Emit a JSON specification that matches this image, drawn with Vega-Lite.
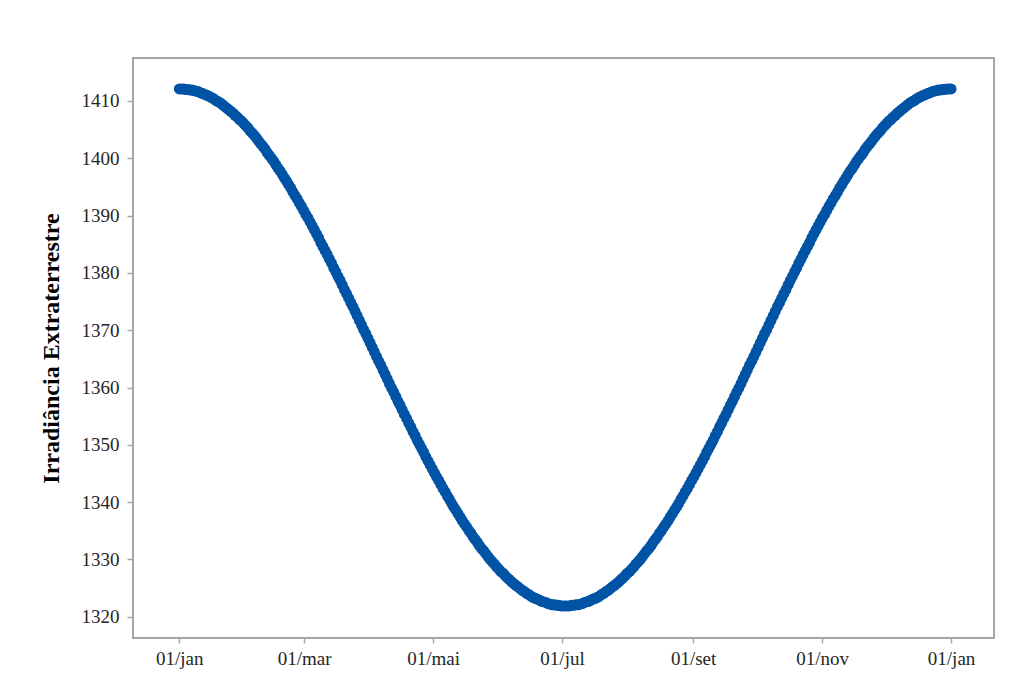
{
  "$schema": "https://vega.github.io/schema/vega-lite/v6.json",
  "autosize": "none",
  "width": 861,
  "height": 580,
  "padding": {"left": 133, "top": 58, "right": 42, "bottom": 55},
  "background": "white",
  "config": {
    "view": {"stroke": "#a6a6a6", "strokeWidth": 2},
    "axis": {
      "grid": false,
      "domain": false,
      "tickColor": "#a6a6a6",
      "tickWidth": 1.5,
      "tickSize": 6,
      "labelFont": "Liberation Serif",
      "labelFontSize": 19,
      "labelColor": "#262626",
      "titleFont": "Liberation Serif",
      "titleColor": "#000000"
    }
  },
  "data": {
    "values": [
      {"dia": 0, "irradiancia": 1412.1}, {"dia": 2.03, "irradiancia": 1412.1}, {"dia": 4.06, "irradiancia": 1412.0},
      {"dia": 6.08, "irradiancia": 1411.9}, {"dia": 8.11, "irradiancia": 1411.7}, {"dia": 10.14, "irradiancia": 1411.4},
      {"dia": 12.17, "irradiancia": 1411.1}, {"dia": 14.19, "irradiancia": 1410.8}, {"dia": 16.22, "irradiancia": 1410.4},
      {"dia": 18.25, "irradiancia": 1409.9}, {"dia": 20.28, "irradiancia": 1409.4}, {"dia": 22.31, "irradiancia": 1408.8},
      {"dia": 24.33, "irradiancia": 1408.2}, {"dia": 26.36, "irradiancia": 1407.5}, {"dia": 28.39, "irradiancia": 1406.8},
      {"dia": 30.42, "irradiancia": 1406.1}, {"dia": 32.44, "irradiancia": 1405.3}, {"dia": 34.47, "irradiancia": 1404.4},
      {"dia": 36.5, "irradiancia": 1403.5}, {"dia": 38.53, "irradiancia": 1402.5}, {"dia": 40.56, "irradiancia": 1401.6},
      {"dia": 42.58, "irradiancia": 1400.5}, {"dia": 44.61, "irradiancia": 1399.5}, {"dia": 46.64, "irradiancia": 1398.3},
      {"dia": 48.67, "irradiancia": 1397.2}, {"dia": 50.69, "irradiancia": 1396.0}, {"dia": 52.72, "irradiancia": 1394.8},
      {"dia": 54.75, "irradiancia": 1393.5}, {"dia": 56.78, "irradiancia": 1392.2}, {"dia": 58.81, "irradiancia": 1390.9},
      {"dia": 60.83, "irradiancia": 1389.6}, {"dia": 62.86, "irradiancia": 1388.2}, {"dia": 64.89, "irradiancia": 1386.8},
      {"dia": 66.92, "irradiancia": 1385.3}, {"dia": 68.94, "irradiancia": 1383.9}, {"dia": 70.97, "irradiancia": 1382.4},
      {"dia": 73, "irradiancia": 1380.9}, {"dia": 75.03, "irradiancia": 1379.4}, {"dia": 77.06, "irradiancia": 1377.9},
      {"dia": 79.08, "irradiancia": 1376.4}, {"dia": 81.11, "irradiancia": 1374.8}, {"dia": 83.14, "irradiancia": 1373.3},
      {"dia": 85.17, "irradiancia": 1371.7}, {"dia": 87.19, "irradiancia": 1370.1}, {"dia": 89.22, "irradiancia": 1368.6},
      {"dia": 91.25, "irradiancia": 1367.0}, {"dia": 93.28, "irradiancia": 1365.4}, {"dia": 95.31, "irradiancia": 1363.9},
      {"dia": 97.33, "irradiancia": 1362.3}, {"dia": 99.36, "irradiancia": 1360.7}, {"dia": 101.39, "irradiancia": 1359.2},
      {"dia": 103.42, "irradiancia": 1357.6}, {"dia": 105.44, "irradiancia": 1356.1}, {"dia": 107.47, "irradiancia": 1354.6},
      {"dia": 109.5, "irradiancia": 1353.1}, {"dia": 111.53, "irradiancia": 1351.6}, {"dia": 113.56, "irradiancia": 1350.1},
      {"dia": 115.58, "irradiancia": 1348.7}, {"dia": 117.61, "irradiancia": 1347.2}, {"dia": 119.64, "irradiancia": 1345.8},
      {"dia": 121.67, "irradiancia": 1344.4}, {"dia": 123.69, "irradiancia": 1343.1}, {"dia": 125.72, "irradiancia": 1341.8},
      {"dia": 127.75, "irradiancia": 1340.5}, {"dia": 129.78, "irradiancia": 1339.2}, {"dia": 131.81, "irradiancia": 1338.0},
      {"dia": 133.83, "irradiancia": 1336.8}, {"dia": 135.86, "irradiancia": 1335.7}, {"dia": 137.89, "irradiancia": 1334.6},
      {"dia": 139.92, "irradiancia": 1333.5}, {"dia": 141.94, "irradiancia": 1332.4}, {"dia": 143.97, "irradiancia": 1331.5},
      {"dia": 146, "irradiancia": 1330.5}, {"dia": 148.03, "irradiancia": 1329.6}, {"dia": 150.06, "irradiancia": 1328.7},
      {"dia": 152.08, "irradiancia": 1327.9}, {"dia": 154.11, "irradiancia": 1327.2}, {"dia": 156.14, "irradiancia": 1326.5},
      {"dia": 158.17, "irradiancia": 1325.8}, {"dia": 160.19, "irradiancia": 1325.2}, {"dia": 162.22, "irradiancia": 1324.6},
      {"dia": 164.25, "irradiancia": 1324.1}, {"dia": 166.28, "irradiancia": 1323.6}, {"dia": 168.31, "irradiancia": 1323.2},
      {"dia": 170.33, "irradiancia": 1322.9}, {"dia": 172.36, "irradiancia": 1322.6}, {"dia": 174.39, "irradiancia": 1322.3},
      {"dia": 176.42, "irradiancia": 1322.1}, {"dia": 178.44, "irradiancia": 1322.0}, {"dia": 180.47, "irradiancia": 1321.9},
      {"dia": 182.5, "irradiancia": 1321.9}, {"dia": 184.53, "irradiancia": 1321.9}, {"dia": 186.56, "irradiancia": 1322.0},
      {"dia": 188.58, "irradiancia": 1322.1}, {"dia": 190.61, "irradiancia": 1322.3}, {"dia": 192.64, "irradiancia": 1322.6},
      {"dia": 194.67, "irradiancia": 1322.9}, {"dia": 196.69, "irradiancia": 1323.2}, {"dia": 198.72, "irradiancia": 1323.6},
      {"dia": 200.75, "irradiancia": 1324.1}, {"dia": 202.78, "irradiancia": 1324.6}, {"dia": 204.81, "irradiancia": 1325.2},
      {"dia": 206.83, "irradiancia": 1325.8}, {"dia": 208.86, "irradiancia": 1326.5}, {"dia": 210.89, "irradiancia": 1327.2},
      {"dia": 212.92, "irradiancia": 1327.9}, {"dia": 214.94, "irradiancia": 1328.7}, {"dia": 216.97, "irradiancia": 1329.6},
      {"dia": 219, "irradiancia": 1330.5}, {"dia": 221.03, "irradiancia": 1331.5}, {"dia": 223.06, "irradiancia": 1332.4},
      {"dia": 225.08, "irradiancia": 1333.5}, {"dia": 227.11, "irradiancia": 1334.6}, {"dia": 229.14, "irradiancia": 1335.7},
      {"dia": 231.17, "irradiancia": 1336.8}, {"dia": 233.19, "irradiancia": 1338.0}, {"dia": 235.22, "irradiancia": 1339.2},
      {"dia": 237.25, "irradiancia": 1340.5}, {"dia": 239.28, "irradiancia": 1341.8}, {"dia": 241.31, "irradiancia": 1343.1},
      {"dia": 243.33, "irradiancia": 1344.4}, {"dia": 245.36, "irradiancia": 1345.8}, {"dia": 247.39, "irradiancia": 1347.2},
      {"dia": 249.42, "irradiancia": 1348.7}, {"dia": 251.44, "irradiancia": 1350.1}, {"dia": 253.47, "irradiancia": 1351.6},
      {"dia": 255.5, "irradiancia": 1353.1}, {"dia": 257.53, "irradiancia": 1354.6}, {"dia": 259.56, "irradiancia": 1356.1},
      {"dia": 261.58, "irradiancia": 1357.6}, {"dia": 263.61, "irradiancia": 1359.2}, {"dia": 265.64, "irradiancia": 1360.7},
      {"dia": 267.67, "irradiancia": 1362.3}, {"dia": 269.69, "irradiancia": 1363.9}, {"dia": 271.72, "irradiancia": 1365.4},
      {"dia": 273.75, "irradiancia": 1367.0}, {"dia": 275.78, "irradiancia": 1368.6}, {"dia": 277.81, "irradiancia": 1370.1},
      {"dia": 279.83, "irradiancia": 1371.7}, {"dia": 281.86, "irradiancia": 1373.3}, {"dia": 283.89, "irradiancia": 1374.8},
      {"dia": 285.92, "irradiancia": 1376.4}, {"dia": 287.94, "irradiancia": 1377.9}, {"dia": 289.97, "irradiancia": 1379.4},
      {"dia": 292, "irradiancia": 1380.9}, {"dia": 294.03, "irradiancia": 1382.4}, {"dia": 296.06, "irradiancia": 1383.9},
      {"dia": 298.08, "irradiancia": 1385.3}, {"dia": 300.11, "irradiancia": 1386.8}, {"dia": 302.14, "irradiancia": 1388.2},
      {"dia": 304.17, "irradiancia": 1389.6}, {"dia": 306.19, "irradiancia": 1390.9}, {"dia": 308.22, "irradiancia": 1392.2},
      {"dia": 310.25, "irradiancia": 1393.5}, {"dia": 312.28, "irradiancia": 1394.8}, {"dia": 314.31, "irradiancia": 1396.0},
      {"dia": 316.33, "irradiancia": 1397.2}, {"dia": 318.36, "irradiancia": 1398.3}, {"dia": 320.39, "irradiancia": 1399.5},
      {"dia": 322.42, "irradiancia": 1400.5}, {"dia": 324.44, "irradiancia": 1401.6}, {"dia": 326.47, "irradiancia": 1402.5},
      {"dia": 328.5, "irradiancia": 1403.5}, {"dia": 330.53, "irradiancia": 1404.4}, {"dia": 332.56, "irradiancia": 1405.3},
      {"dia": 334.58, "irradiancia": 1406.1}, {"dia": 336.61, "irradiancia": 1406.8}, {"dia": 338.64, "irradiancia": 1407.5},
      {"dia": 340.67, "irradiancia": 1408.2}, {"dia": 342.69, "irradiancia": 1408.8}, {"dia": 344.72, "irradiancia": 1409.4},
      {"dia": 346.75, "irradiancia": 1409.9}, {"dia": 348.78, "irradiancia": 1410.4}, {"dia": 350.81, "irradiancia": 1410.8},
      {"dia": 352.83, "irradiancia": 1411.1}, {"dia": 354.86, "irradiancia": 1411.4}, {"dia": 356.89, "irradiancia": 1411.7},
      {"dia": 358.92, "irradiancia": 1411.9}, {"dia": 360.94, "irradiancia": 1412.0}, {"dia": 362.97, "irradiancia": 1412.1},
      {"dia": 365, "irradiancia": 1412.1},
      {"dia": 1.01, "irradiancia": 1412.1}, {"dia": 3.04, "irradiancia": 1412.0}, {"dia": 5.07, "irradiancia": 1411.9},
      {"dia": 7.1, "irradiancia": 1411.8}, {"dia": 9.13, "irradiancia": 1411.6}, {"dia": 11.15, "irradiancia": 1411.3},
      {"dia": 13.18, "irradiancia": 1411.0}, {"dia": 15.21, "irradiancia": 1410.6}, {"dia": 17.24, "irradiancia": 1410.1},
      {"dia": 19.26, "irradiancia": 1409.7}, {"dia": 21.29, "irradiancia": 1409.1}, {"dia": 23.32, "irradiancia": 1408.5},
      {"dia": 25.35, "irradiancia": 1407.9}, {"dia": 27.38, "irradiancia": 1407.2}, {"dia": 29.4, "irradiancia": 1406.5},
      {"dia": 31.43, "irradiancia": 1405.7}, {"dia": 33.46, "irradiancia": 1404.8}, {"dia": 35.49, "irradiancia": 1404.0},
      {"dia": 37.51, "irradiancia": 1403.0}, {"dia": 39.54, "irradiancia": 1402.1}, {"dia": 41.57, "irradiancia": 1401.0},
      {"dia": 43.6, "irradiancia": 1400.0}, {"dia": 45.63, "irradiancia": 1398.9}, {"dia": 47.65, "irradiancia": 1397.8},
      {"dia": 49.68, "irradiancia": 1396.6}, {"dia": 51.71, "irradiancia": 1395.4}, {"dia": 53.74, "irradiancia": 1394.1},
      {"dia": 55.76, "irradiancia": 1392.9}, {"dia": 57.79, "irradiancia": 1391.6}, {"dia": 59.82, "irradiancia": 1390.2},
      {"dia": 61.85, "irradiancia": 1388.9}, {"dia": 63.88, "irradiancia": 1387.5}, {"dia": 65.9, "irradiancia": 1386.1},
      {"dia": 67.93, "irradiancia": 1384.6}, {"dia": 69.96, "irradiancia": 1383.2}, {"dia": 71.99, "irradiancia": 1381.7},
      {"dia": 74.01, "irradiancia": 1380.2}, {"dia": 76.04, "irradiancia": 1378.7}, {"dia": 78.07, "irradiancia": 1377.1},
      {"dia": 80.1, "irradiancia": 1375.6}, {"dia": 82.13, "irradiancia": 1374.1}, {"dia": 84.15, "irradiancia": 1372.5},
      {"dia": 86.18, "irradiancia": 1370.9}, {"dia": 88.21, "irradiancia": 1369.4}, {"dia": 90.24, "irradiancia": 1367.8},
      {"dia": 92.26, "irradiancia": 1366.2}, {"dia": 94.29, "irradiancia": 1364.6}, {"dia": 96.32, "irradiancia": 1363.1},
      {"dia": 98.35, "irradiancia": 1361.5}, {"dia": 100.38, "irradiancia": 1359.9}, {"dia": 102.4, "irradiancia": 1358.4},
      {"dia": 104.43, "irradiancia": 1356.9}, {"dia": 106.46, "irradiancia": 1355.3}, {"dia": 108.49, "irradiancia": 1353.8},
      {"dia": 110.51, "irradiancia": 1352.3}, {"dia": 112.54, "irradiancia": 1350.8}, {"dia": 114.57, "irradiancia": 1349.4},
      {"dia": 116.6, "irradiancia": 1347.9}, {"dia": 118.63, "irradiancia": 1346.5}, {"dia": 120.65, "irradiancia": 1345.1},
      {"dia": 122.68, "irradiancia": 1343.8}, {"dia": 124.71, "irradiancia": 1342.4}, {"dia": 126.74, "irradiancia": 1341.1},
      {"dia": 128.76, "irradiancia": 1339.8}, {"dia": 130.79, "irradiancia": 1338.6}, {"dia": 132.82, "irradiancia": 1337.4},
      {"dia": 134.85, "irradiancia": 1336.2}, {"dia": 136.88, "irradiancia": 1335.1}, {"dia": 138.9, "irradiancia": 1334.0},
      {"dia": 140.93, "irradiancia": 1333.0}, {"dia": 142.96, "irradiancia": 1331.9}, {"dia": 144.99, "irradiancia": 1331.0},
      {"dia": 147.01, "irradiancia": 1330.0}, {"dia": 149.04, "irradiancia": 1329.2}, {"dia": 151.07, "irradiancia": 1328.3},
      {"dia": 153.1, "irradiancia": 1327.6}, {"dia": 155.13, "irradiancia": 1326.8}, {"dia": 157.15, "irradiancia": 1326.1},
      {"dia": 159.18, "irradiancia": 1325.5}, {"dia": 161.21, "irradiancia": 1324.9}, {"dia": 163.24, "irradiancia": 1324.4},
      {"dia": 165.26, "irradiancia": 1323.9}, {"dia": 167.29, "irradiancia": 1323.4}, {"dia": 169.32, "irradiancia": 1323.1},
      {"dia": 171.35, "irradiancia": 1322.7}, {"dia": 173.38, "irradiancia": 1322.5}, {"dia": 175.4, "irradiancia": 1322.2},
      {"dia": 177.43, "irradiancia": 1322.1}, {"dia": 179.46, "irradiancia": 1322.0}, {"dia": 181.49, "irradiancia": 1321.9},
      {"dia": 183.51, "irradiancia": 1321.9}, {"dia": 185.54, "irradiancia": 1322.0}, {"dia": 187.57, "irradiancia": 1322.1},
      {"dia": 189.6, "irradiancia": 1322.2}, {"dia": 191.63, "irradiancia": 1322.5}, {"dia": 193.65, "irradiancia": 1322.7},
      {"dia": 195.68, "irradiancia": 1323.1}, {"dia": 197.71, "irradiancia": 1323.4}, {"dia": 199.74, "irradiancia": 1323.9},
      {"dia": 201.76, "irradiancia": 1324.4}, {"dia": 203.79, "irradiancia": 1324.9}, {"dia": 205.82, "irradiancia": 1325.5},
      {"dia": 207.85, "irradiancia": 1326.1}, {"dia": 209.88, "irradiancia": 1326.8}, {"dia": 211.9, "irradiancia": 1327.6},
      {"dia": 213.93, "irradiancia": 1328.3}, {"dia": 215.96, "irradiancia": 1329.2}, {"dia": 217.99, "irradiancia": 1330.0},
      {"dia": 220.01, "irradiancia": 1331.0}, {"dia": 222.04, "irradiancia": 1331.9}, {"dia": 224.07, "irradiancia": 1333.0},
      {"dia": 226.1, "irradiancia": 1334.0}, {"dia": 228.13, "irradiancia": 1335.1}, {"dia": 230.15, "irradiancia": 1336.2},
      {"dia": 232.18, "irradiancia": 1337.4}, {"dia": 234.21, "irradiancia": 1338.6}, {"dia": 236.24, "irradiancia": 1339.8},
      {"dia": 238.26, "irradiancia": 1341.1}, {"dia": 240.29, "irradiancia": 1342.4}, {"dia": 242.32, "irradiancia": 1343.8},
      {"dia": 244.35, "irradiancia": 1345.1}, {"dia": 246.38, "irradiancia": 1346.5}, {"dia": 248.4, "irradiancia": 1347.9},
      {"dia": 250.43, "irradiancia": 1349.4}, {"dia": 252.46, "irradiancia": 1350.8}, {"dia": 254.49, "irradiancia": 1352.3},
      {"dia": 256.51, "irradiancia": 1353.8}, {"dia": 258.54, "irradiancia": 1355.3}, {"dia": 260.57, "irradiancia": 1356.9},
      {"dia": 262.6, "irradiancia": 1358.4}, {"dia": 264.63, "irradiancia": 1359.9}, {"dia": 266.65, "irradiancia": 1361.5},
      {"dia": 268.68, "irradiancia": 1363.1}, {"dia": 270.71, "irradiancia": 1364.6}, {"dia": 272.74, "irradiancia": 1366.2},
      {"dia": 274.76, "irradiancia": 1367.8}, {"dia": 276.79, "irradiancia": 1369.4}, {"dia": 278.82, "irradiancia": 1370.9},
      {"dia": 280.85, "irradiancia": 1372.5}, {"dia": 282.88, "irradiancia": 1374.1}, {"dia": 284.9, "irradiancia": 1375.6},
      {"dia": 286.93, "irradiancia": 1377.1}, {"dia": 288.96, "irradiancia": 1378.7}, {"dia": 290.99, "irradiancia": 1380.2},
      {"dia": 293.01, "irradiancia": 1381.7}, {"dia": 295.04, "irradiancia": 1383.2}, {"dia": 297.07, "irradiancia": 1384.6},
      {"dia": 299.1, "irradiancia": 1386.1}, {"dia": 301.13, "irradiancia": 1387.5}, {"dia": 303.15, "irradiancia": 1388.9},
      {"dia": 305.18, "irradiancia": 1390.2}, {"dia": 307.21, "irradiancia": 1391.6}, {"dia": 309.24, "irradiancia": 1392.9},
      {"dia": 311.26, "irradiancia": 1394.1}, {"dia": 313.29, "irradiancia": 1395.4}, {"dia": 315.32, "irradiancia": 1396.6},
      {"dia": 317.35, "irradiancia": 1397.8}, {"dia": 319.38, "irradiancia": 1398.9}, {"dia": 321.4, "irradiancia": 1400.0},
      {"dia": 323.43, "irradiancia": 1401.0}, {"dia": 325.46, "irradiancia": 1402.1}, {"dia": 327.49, "irradiancia": 1403.0},
      {"dia": 329.51, "irradiancia": 1404.0}, {"dia": 331.54, "irradiancia": 1404.8}, {"dia": 333.57, "irradiancia": 1405.7},
      {"dia": 335.6, "irradiancia": 1406.5}, {"dia": 337.63, "irradiancia": 1407.2}, {"dia": 339.65, "irradiancia": 1407.9},
      {"dia": 341.68, "irradiancia": 1408.5}, {"dia": 343.71, "irradiancia": 1409.1}, {"dia": 345.74, "irradiancia": 1409.7},
      {"dia": 347.76, "irradiancia": 1410.1}, {"dia": 349.79, "irradiancia": 1410.6}, {"dia": 351.82, "irradiancia": 1411.0},
      {"dia": 353.85, "irradiancia": 1411.3}, {"dia": 355.88, "irradiancia": 1411.6}, {"dia": 357.9, "irradiancia": 1411.8},
      {"dia": 359.93, "irradiancia": 1411.9}, {"dia": 361.96, "irradiancia": 1412.0}, {"dia": 363.99, "irradiancia": 1412.1}
    ]
  },
  "mark": {"type": "point", "filled": true, "shape": "circle", "size": 120, "color": "#0053a5", "opacity": 1, "strokeWidth": 0},
  "encoding": {
    "x": {
      "field": "dia",
      "type": "quantitative",
      "scale": {"domain": [-21.9, 385.3], "nice": false, "zero": false},
      "axis": {
        "title": null,
        "values": [0, 59, 120, 181, 243, 304, 365],
        "labelExpr": "['01/jan','01/mar','01/mai','01/jul','01/set','01/nov','01/jan'][indexof([0,59,120,181,243,304,365], datum.value)]",
        "tickSize": 5,
        "labelPadding": 6
      }
    },
    "y": {
      "field": "irradiancia",
      "type": "quantitative",
      "scale": {"domain": [1316.3, 1417.5], "nice": false, "zero": false},
      "axis": {
        "title": "Irradiância Extraterrestre",
        "titleFontSize": 24,
        "titleFontWeight": "bold",
        "titlePadding": 18,
        "values": [1320, 1330, 1340, 1350, 1360, 1370, 1380, 1390, 1400, 1410],
        "format": "d",
        "labelPadding": 8
      }
    }
  }
}
